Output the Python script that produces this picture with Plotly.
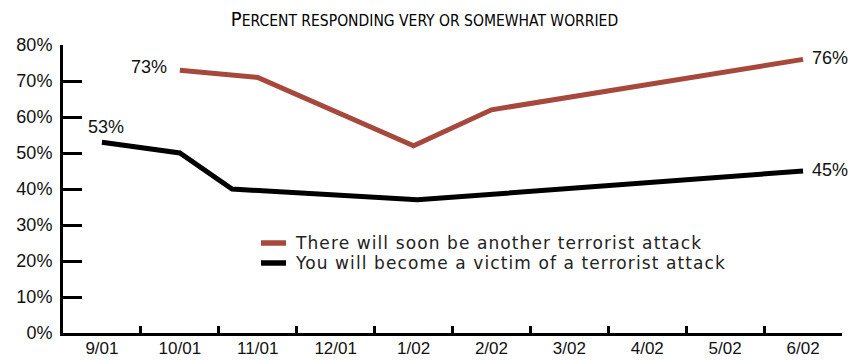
import plotly.graph_objects as go

# Month labels along the x axis (one slot per month)
months = ["9/01", "10/01", "11/01", "12/01", "1/02", "2/02", "3/02", "4/02", "5/02", "6/02"]

# Survey positions (in month slots) and percentages for each question
attack_name = "There will soon be another terrorist attack"
attack_x = [1, 2, 4, 5, 9]
attack_pct = [73, 71, 52, 62, 76]

victim_name = "You will become a victim of a terrorist attack"
victim_x = [0, 1, 1.67, 4.05, 9]
victim_pct = [53, 50, 40, 37, 45]

y_ticks = [0, 10, 20, 30, 40, 50, 60, 70, 80]

RED = "#A6483B"
BLACK = "#000000"
TICK_FONT = dict(family="Liberation Sans, Arial, sans-serif", size=18, color="#111111")
MONTH_FONT = dict(family="Liberation Sans, Arial, sans-serif", size=17, color="#111111")
LEGEND_FONT = dict(family="DejaVu Sans, sans-serif", size=17, color="#222222")

fig = go.Figure()

fig.add_trace(go.Scatter(
    x=attack_x, y=attack_pct, mode="lines", name=attack_name,
    line=dict(color=RED, width=5), showlegend=False,
))
fig.add_trace(go.Scatter(
    x=victim_x, y=victim_pct, mode="lines", name=victim_name,
    line=dict(color=BLACK, width=5), showlegend=False,
))

# invisible trace that carries the month-boundary tick axis
fig.add_trace(go.Scatter(x=[-0.5, 9.5], y=[0, 0], xaxis="x2", mode="lines",
                         line=dict(width=0), showlegend=False, hoverinfo="skip"))

# value labels at the first and last survey of each series
def value_label(x, y, anchor, dx, dy):
    return dict(x=x, y=y, xref="x", yref="y", text=f"{y}%", showarrow=False,
                xanchor=anchor, yanchor="middle", xshift=dx, yshift=dy, font=TICK_FONT)

annotations = [
    value_label(attack_x[0], attack_pct[0], "right", -11, 3),
    value_label(attack_x[-1], attack_pct[-1], "left", 7, 1.5),
    value_label(victim_x[0], victim_pct[0], "center", 4, 15),
    value_label(victim_x[-1], victim_pct[-1], "left", 7, 1),
]

# key: short line swatch followed by the series wording
legend_rows = [(attack_name, RED, 0.3125), (victim_name, BLACK, 0.2431)]
shapes = []
for name, color, ly in legend_rows:
    shapes.append(dict(type="line", xref="paper", yref="paper",
                       x0=0.2542, x1=0.2863, y0=ly, y1=ly,
                       line=dict(color=color, width=5.5)))
    annotations.append(dict(x=0.2953, y=ly, xref="paper", yref="paper",
                            text=f"<span style='letter-spacing:1.1px'>{name}</span>",
                            showarrow=False, xanchor="left", yanchor="middle",
                            font=LEGEND_FONT))

title_text = (
    "P<span style='font-size:15.5px'>ERCENT RESPONDING VERY OR SOMEWHAT WORRIED</span>"
)

fig.update_layout(
    width=849, height=360,
    margin=dict(l=63, r=7, t=45, b=27, autoexpand=False),
    paper_bgcolor="white", plot_bgcolor="white",
    title=dict(text=title_text, x=0.5, xref="container", xanchor="center",
               y=1 - 19 / 360, yref="container", yanchor="middle",
               automargin=False,
               font=dict(family="Liberation Sans Narrow, DejaVu Sans Condensed, sans-serif",
                         size=20, color="#000000")),
    showlegend=False,
    annotations=annotations,
    shapes=shapes,
    xaxis=dict(range=[-0.5, 9.5], tickvals=list(range(len(months))), ticktext=months,
               ticks="", showgrid=False, zeroline=False, showline=True, automargin=False,
               linecolor="#000000", linewidth=3, tickfont=MONTH_FONT, fixedrange=True,
               ticklabelstandoff=-2),
    xaxis2=dict(range=[-0.5, 9.5], overlaying="x", side="bottom", anchor="y",
                tickvals=[i - 0.5 for i in range(len(months) + 1)], automargin=False,
                ticks="inside", ticklen=7, tickwidth=2.5, tickcolor="#000000",
                showticklabels=False, showgrid=False, zeroline=False, showline=False),
    yaxis=dict(range=[0, 80], tickvals=y_ticks, ticktext=[f"{t}%" for t in y_ticks],
               ticks="inside", ticklen=19, tickwidth=2.5, tickcolor="#000000",
               showgrid=False, zeroline=False, showline=True, linecolor="#000000",
               linewidth=3, tickfont=TICK_FONT, ticklabelstandoff=4, automargin=False),
)

fig.write_html("out.html")
